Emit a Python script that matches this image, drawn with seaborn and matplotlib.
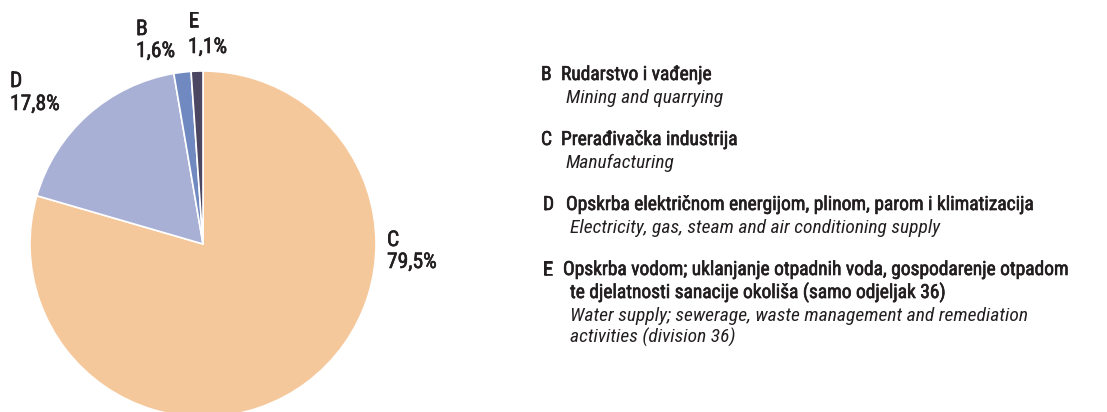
import matplotlib
matplotlib.use("Agg")
from matplotlib import pyplot as plt
from matplotlib import patheffects as pe
import seaborn as sns

# slices, clockwise from 12 o'clock
codes = ["C", "D", "B", "E"]
shares = [79.5, 17.8, 1.6, 1.1]
share_labels = ["79,5%", "17,8%", "1,6%", "1,1%"]
colors = ["#F5C89B", "#A9B0D5", "#7089C0", "#4B4662"]

# legend text
legend_codes = ["B", "C", "D", "E"]
legend_hr = [
    ["Rudarstvo i vađenje"],
    ["Prerađivačka industrija"],
    ["Opskrba električnom energijom, plinom, parom i klimatizacija"],
    ["Opskrba vodom; uklanjanje otpadnih voda, gospodarenje otpadom",
     "te djelatnosti sanacije okoliša (samo odjeljak 36)"],
]
legend_en = [
    ["Mining and quarrying"],
    ["Manufacturing"],
    ["Electricity, gas, steam and air conditioning supply"],
    ["Water supply; sewerage, waste management and remediation",
     "activities (division 36)"],
]

sns.set_theme(style="white")
FONT = ["Roboto Condensed", "DejaVu Sans"]
plt.rcParams["font.family"] = FONT
plt.rcParams["font.stretch"] = "condensed"
TXT = "#231F20"
heavy = [pe.withStroke(linewidth=0.45, foreground=TXT)]

W, H = 1107, 412
fig = plt.figure(figsize=(W / 100, H / 100), dpi=100)
fig.patch.set_facecolor("white")


def px(x, y):
    return x / W, 1 - y / H


# pie: centre (203, 244), radius 173 px
cx, cy, r = 203, 244, 173
ax = fig.add_axes([(cx - r) / W, (H - cy - r) / H, 2 * r / W, 2 * r / H])
pal = sns.color_palette(colors)
wedges, _ = ax.pie(shares, colors=pal, startangle=90, counterclock=False,
                   wedgeprops=dict(edgecolor="white", linewidth=1.2))
for w in wedges:
    w.set_clip_on(False)
ax.set_xlim(-1, 1)
ax.set_ylim(-1, 1)
ax.set_aspect("auto")
ax.axis("off")

# slice labels: x, baseline of code, baseline of percentage (pixels)
label_pos = {"C": (387, 246, 268), "D": (10, 87, 110),
             "B": (136, 35, 57), "E": (188, 27, 53)}
for code, lab in zip(codes, share_labels):
    x, y1, y2 = label_pos[code]
    fig.text(*px(x, y1), code, fontsize=15.5, color=TXT, ha="left",
             va="baseline", path_effects=heavy)
    fig.text(*px(x, y2), lab, fontsize=15.5, color=TXT, ha="left",
             va="baseline", path_effects=heavy)

# legend on the right
rows = [80, 145, 210, 275]
code_x = [541, 541, 543, 543]
hdr_x = [561, 561, 566, 563]
it_x = [566, 566, 570, 570]
for i, (code, hr, en, y) in enumerate(zip(legend_codes, legend_hr, legend_en, rows)):
    fig.text(*px(code_x[i], y), code, fontsize=14, color=TXT, ha="left",
             va="baseline", path_effects=heavy)
    yy = y
    for j, line in enumerate(hr):
        x = hdr_x[i] if j == 0 else it_x[i]
        fig.text(*px(x, yy), line, fontsize=14, color=TXT, ha="left",
                 va="baseline", path_effects=heavy)
        yy += 23
    for line in en:
        fig.text(*px(it_x[i], yy), line, fontsize=14, color=TXT, style="italic",
                 ha="left", va="baseline")
        yy += 22

fig.savefig("out.png", dpi=100)
